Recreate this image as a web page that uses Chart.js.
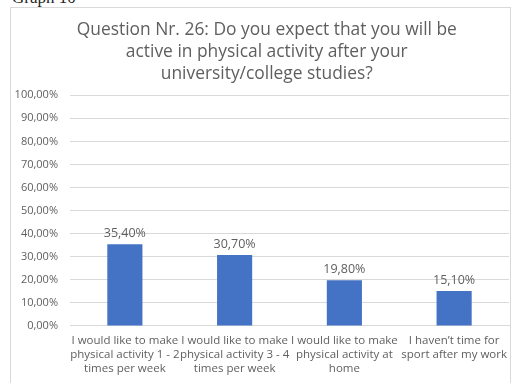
<!DOCTYPE html>
<html lang="en">
<head>
    <meta charset="UTF-8">
    <title>Question Nr. 26</title>
    <style>
        html, body { margin: 0; padding: 0; background: #fff; overflow: hidden; }
        .caption {
            position: absolute; left: 12px; top: -12px;
            font: 17px "Liberation Serif", serif; color: #222;
        }
        .chart-box {
            position: absolute; left: 10px; top: 7px;
            width: 499px; height: 380px;
            border: 1px solid #d9d9d9;
            border-bottom: none;
            background: #fff;
        }
        .chart-box canvas { display: block; }
    </style>
</head>
<body>
    <div class="caption">Graph 10</div>
    <div class="chart-box">
        <canvas id="chart" width="499" height="376"></canvas>
    </div>
    <script src="https://cdn.jsdelivr.net/npm/chart.js"></script>
    <script>
    // data
    var categories = [
        ['I would like to make', 'physical activity 1 - 2', 'times per week'],
        ['I would like to make', 'physical activity 3 - 4', 'times per week'],
        ['I would like to make', 'physical activity at', 'home'],
        ['I haven\u2019t time for', 'sport after my work']
    ];
    var values = [35.4, 30.7, 19.8, 15.1];
    // title sits a little right of the centre in the original
    var titleLines = [
        '\u00a0\u00a0\u00a0Question Nr. 26: Do you expect that you will be',
        '\u00a0\u00a0\u00a0active in physical activity after your',
        '\u00a0\u00a0\u00a0university/college studies?'
    ];

    var textColor = '#5f5f5f';
    var fontFamily = '"Open Sans", "Noto Sans", sans-serif';

    function pct(v) {
        return v.toFixed(2).replace('.', ',') + '%';
    }

    // value labels on top of the bars
    var barLabels = {
        id: 'barLabels',
        afterDatasetsDraw: function (chart) {
            var ctx = chart.ctx;
            var meta = chart.getDatasetMeta(0);
            ctx.save();
            ctx.font = '12.5px ' + fontFamily;
            ctx.fillStyle = textColor;
            ctx.textAlign = 'center';
            ctx.textBaseline = 'middle';
            meta.data.forEach(function (bar, i) {
                ctx.fillText(pct(values[i]), bar.x, bar.y - 11);
            });
            ctx.restore();
        }
    };

    new Chart(document.getElementById('chart'), {
        type: 'bar',
        data: {
            labels: categories,
            datasets: [{
                data: values,
                backgroundColor: '#4472C4',
                barPercentage: 0.32,
                categoryPercentage: 1
            }]
        },
        options: {
            responsive: false,
            animation: false,
            layout: { padding: { left: 0, right: 1, top: 0, bottom: 8 } },
            scales: {
                x: {
                    grid: { display: false },
                    border: { color: '#d9d9d9' },
                    ticks: {
                        color: textColor,
                        font: { family: fontFamily, size: 11.5, lineHeight: 1.22 },
                        maxRotation: 0,
                        autoSkip: false,
                        padding: 0
                    }
                },
                y: {
                    min: 0,
                    max: 100,
                    afterFit: function (scale) { scale.width = 59; },
                    grid: { color: '#d9d9d9', drawTicks: false },
                    border: { display: false },
                    ticks: {
                        stepSize: 10,
                        padding: 12,
                        color: textColor,
                        font: { family: fontFamily, size: 11 },
                        callback: function (v) { return pct(v); }
                    }
                }
            },
            plugins: {
                legend: { display: false },
                tooltip: { enabled: false },
                title: {
                    display: true,
                    text: titleLines,
                    color: textColor,
                    font: { family: fontFamily, size: 17.4, weight: 'normal', lineHeight: 1.27 },
                    padding: { top: 11, bottom: 10 }
                }
            }
        },
        plugins: [barLabels]
    });
    </script>
</body>
</html>
